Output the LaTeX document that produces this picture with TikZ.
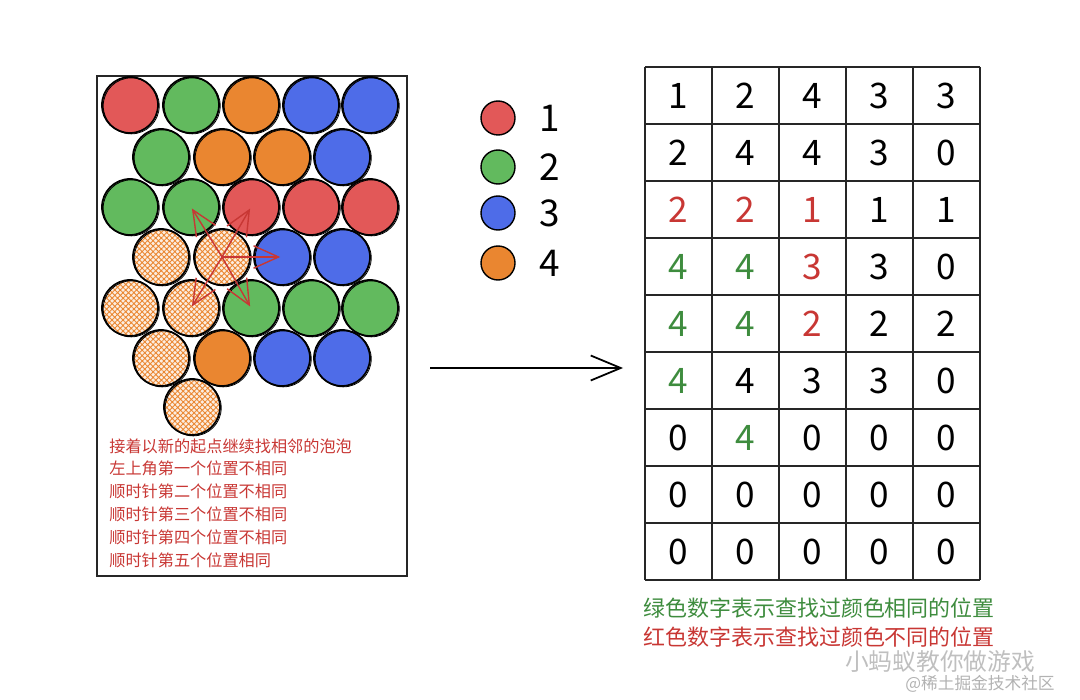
\documentclass[tikz,border=0pt]{standalone}
\usepackage{fontspec}
\setmainfont{Noto Sans CJK SC}
\usetikzlibrary{arrows.meta,patterns.meta}

\definecolor{bred}{RGB}{226,88,88}
\definecolor{bgreen}{RGB}{98,186,94}
\definecolor{borange}{RGB}{234,134,48}
\definecolor{bblue}{RGB}{78,108,232}
\definecolor{numred}{RGB}{200,55,52}
\definecolor{numgreen}{RGB}{62,140,62}
\newcommand\rd[1]{\textcolor{numred}{#1}}
\newcommand\gn[1]{\textcolor{numgreen}{#1}}

\begin{document}
\begin{tikzpicture}[x=0.2mm, y=-0.2mm,
	   bub/.style={circle, draw, line width=1pt, minimum size=11.2mm, inner sep=0pt,
	     postaction={draw, line width=.45pt, transform canvas={xshift=.7pt, yshift=-.5pt}}},
	   hatch/.style={bub, preaction={fill=borange!15},
	     pattern={Hatch[angle=45, distance=2.2pt, line width=.5pt]}, pattern color=borange},
	   leg/.style={circle, draw, line width=.8pt, minimum size=6.8mm, inner sep=0pt},
	   num/.style={font=\fontsize{20}{20}\selectfont, inner sep=0pt},
	   note/.style={font=\fontsize{9.2}{13}\selectfont, text=numred, align=left, inner sep=0pt},
	   look/.style={-{Straight Barb[length=5mm, width=4.5mm]}, numred, line width=.8pt},
	   gridline/.style={line width=.9pt, black!85}]
	  \useasboundingbox (0,0) rectangle (1080,700);
	  % board with bubbles
	  \node[draw, line width=1pt, black!85, minimum width=62mm, minimum height=100mm,
	    anchor=north west, inner sep=0pt] (board) at (96,75) {};
	  \foreach \x/\c [count=\j] in {130/bred,191/bgreen,251/borange,311/bblue,370/bblue}
	    \node[bub, fill=\c] (b1\j) at (\x,105) {};
	  \foreach \x/\c [count=\j] in {161/bgreen,222/borange,282/borange,342/bblue}
	    \node[bub, fill=\c] (b2\j) at (\x,157) {};
	  \foreach \x/\c [count=\j] in {130/bgreen,191/bgreen,251/bred,311/bred,370/bred}
	    \node[bub, fill=\c] (b3\j) at (\x,207) {};
	  \node[hatch] (b41) at (161,257) {};
	  \node[hatch] (b42) at (222,257) {};
	  \node[bub, fill=bblue] (b43) at (282,257) {};
	  \node[bub, fill=bblue] (b44) at (342,257) {};
	  \node[hatch] (b51) at (130,308) {};
	  \node[hatch] (b52) at (191,308) {};
	  \foreach \x [count=\j from 3] in {251,311,370}
	    \node[bub, fill=bgreen] (b5\j) at (\x,308) {};
	  \node[hatch] (b61) at (161,358) {};
	  \node[bub, fill=borange] (b62) at (222,358) {};
	  \node[bub, fill=bblue] (b63) at (282,358) {};
	  \node[bub, fill=bblue] (b64) at (342,358) {};
	  \node[hatch] (b71) at (192,407) {};
	  \foreach \t in {b32,b33,b43,b53,b52}
	    \draw[look, shorten >=1pt] (b42.center) -- (\t.center);
	  \node[note, anchor=north west] (notes) at (109,438)
	    {接着以新的起点继续找相邻的泡泡\\左上角第一个位置不相同\\顺时针第二个位置不相同\\
	     顺时针第三个位置不相同\\顺时针第四个位置不相同\\顺时针第五个位置相同};
	  % legend
	  \foreach \y/\c/\n [count=\k] in {118/bred/1,167/bgreen/2,213/bblue/3,263/borange/4} {
	    \node[leg, fill=\c] (l\k) at (498,\y) {};
	    \node[num, font=\fontsize{21}{21}\selectfont] (t\k) at (550,\y) {\n};
	  }
	  \coordinate (go) at (430,368);
	  \coordinate (to) at (623,368);
	  \draw[-{Straight Barb[length=6mm, width=5mm]}, line width=1pt] (go) -- (to);
	  % grid of values
	  \foreach \x in {0,...,5}
	    \draw[gridline] ({645+67*\x},67) -- ({645+67*\x},580);
	  \foreach \y in {0,...,9}
	    \draw[gridline] (645,{67+57*\y}) -- (980,{67+57*\y});
	  \foreach \vals [count=\i] in {{1,2,4,3,3},{2,4,4,3,0},{\rd2,\rd2,\rd1,1,1},
	      {\gn4,\gn4,\rd3,3,0},{\gn4,\gn4,\rd2,2,2},{\gn4,4,3,3,0},
	      {0,\gn4,0,0,0},{0,0,0,0,0},{0,0,0,0,0}}
	    \foreach \v [count=\j] in \vals
	      \node[num] (c\i\j) at ({611.5+67*\j},{38.5+57*\i}) {\v};
	  \node[anchor=west, inner sep=0pt, font=\fontsize{12.5}{12.5}\selectfont, text=numgreen]
	    (same) at (643,608) {绿色数字表示查找过颜色相同的位置};
	  \node[anchor=west, inner sep=0pt, font=\fontsize{12.5}{12.5}\selectfont, text=numred]
	    (diff) at (643,637) {红色数字表示查找过颜色不同的位置};
	  \node[inner sep=0pt, font=\fontsize{13.5}{13.5}\selectfont, text=black!25] (wm) at (940,662) {小蚂蚁教你做游戏};
	  \node[inner sep=0pt, font=\fontsize{9.5}{9.5}\selectfont, text=black!30] (wm2) at (980,684) {@稀土掘金技术社区};
	\end{tikzpicture}
\end{document}
